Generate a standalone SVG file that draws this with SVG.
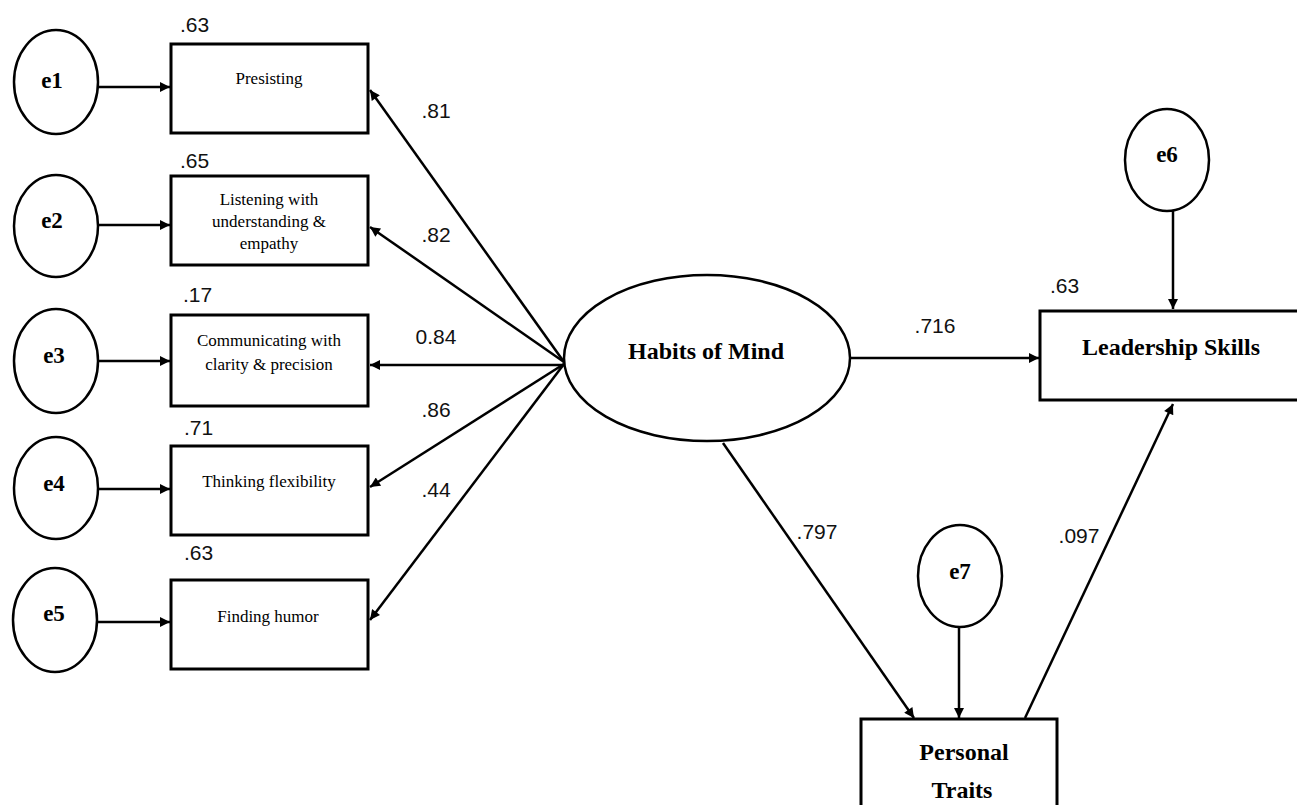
<svg xmlns="http://www.w3.org/2000/svg" width="1297" height="805" viewBox="0 0 1297 805">
<style>
.node{fill:#fff;stroke:#000;stroke-width:2.5}
.box{fill:#fff;stroke:#000;stroke-width:3}
.conn line{stroke:#000;stroke-width:2.5;marker-end:url(#ah)}
.e{font-family:"Liberation Serif",serif;font-weight:bold;font-size:23px;text-anchor:middle}
.bt{font-family:"Liberation Serif",serif;font-size:17px;text-anchor:middle}
.big{font-family:"Liberation Serif",serif;font-weight:bold;font-size:24px;text-anchor:middle}
.num{font-family:"Liberation Sans",sans-serif;font-size:21px;fill:#111}
</style>
<defs>
<marker id="ah" viewBox="0 0 10 10" refX="10" refY="5" markerWidth="5" markerHeight="4" markerUnits="strokeWidth" orient="auto">
<path d="M0,0 L10,5 L0,10 z" fill="#000"/>
</marker>
</defs>
<rect width="1297" height="805" fill="#fff"/>

<g id="connectors" class="conn">
<line x1="98" y1="87" x2="170" y2="87"/>
<line x1="98" y1="225" x2="170" y2="225"/>
<line x1="98" y1="361" x2="170" y2="361"/>
<line x1="98" y1="489" x2="170" y2="489"/>
<line x1="98" y1="622" x2="170" y2="622"/>
<line x1="564" y1="362" x2="370" y2="90"/>
<line x1="564" y1="362" x2="370" y2="227"/>
<line x1="564" y1="365" x2="370" y2="365"/>
<line x1="564" y1="364" x2="370" y2="487"/>
<line x1="564" y1="364" x2="370" y2="620"/>
<line x1="850" y1="358" x2="1039" y2="358"/>
<line x1="1173" y1="211" x2="1173" y2="309"/>
<line x1="723" y1="443" x2="914" y2="718"/>
<line x1="959" y1="627" x2="959" y2="718"/>
<line x1="1025" y1="718" x2="1173" y2="404"/>
</g>

<g id="e1"><ellipse class="node" cx="56" cy="82" rx="42" ry="52"/><text class="e" x="52" y="88">e1</text></g>
<g id="e2"><ellipse class="node" cx="56" cy="226" rx="42" ry="51"/><text class="e" x="52" y="228">e2</text></g>
<g id="e3"><ellipse class="node" cx="56" cy="361" rx="42" ry="52"/><text class="e" x="54" y="363">e3</text></g>
<g id="e4"><ellipse class="node" cx="56" cy="488" rx="42" ry="51"/><text class="e" x="54" y="491">e4</text></g>
<g id="e5"><ellipse class="node" cx="55" cy="620" rx="42" ry="52"/><text class="e" x="54" y="621">e5</text></g>

<g id="presisting"><rect class="box" x="171" y="44" width="197" height="89"/><text class="bt" x="269" y="84">Presisting</text><text class="num" x="180" y="32">.63</text></g>
<g id="listening"><rect class="box" x="171" y="176" width="197" height="89"/>
<text class="bt" x="269" y="205">Listening with</text><text class="bt" x="269" y="227">understanding &amp;</text><text class="bt" x="269" y="249">empathy</text><text class="num" x="180" y="168">.65</text></g>
<g id="communicating"><rect class="box" x="171" y="315" width="197" height="91"/>
<text class="bt" x="269" y="346" font-size="18">Communicating  with</text><text class="bt" x="269" y="370" font-size="18">clarity  &amp; precision</text><text class="num" x="183" y="302">.17</text></g>
<g id="thinking"><rect class="box" x="171" y="446" width="197" height="89"/><text class="bt" x="269" y="487" font-size="18">Thinking  flexibility</text><text class="num" x="184" y="435">.71</text></g>
<g id="humor"><rect class="box" x="171" y="580" width="197" height="89"/><text class="bt" x="268" y="622" font-size="18">Finding humor</text><text class="num" x="184" y="560">.63</text></g>

<g id="habits"><ellipse class="node" cx="707" cy="358" rx="143" ry="83"/><text class="big" x="706" y="359">Habits of Mind</text></g>
<g id="leadership"><rect class="box" x="1040" y="311" width="300" height="89"/><text class="big" x="1171" y="355">Leadership Skills</text><text class="num" x="1050" y="293">.63</text></g>
<g id="e6"><ellipse class="node" cx="1167" cy="160" rx="42" ry="51"/><text class="e" x="1167" y="162">e6</text></g>
<g id="personal"><rect class="box" x="861" y="719" width="196" height="120"/><text class="big" x="964" y="760" font-size="25">Personal</text><text class="big" x="962" y="798" font-size="25">Traits</text></g>
<g id="e7"><ellipse class="node" cx="960" cy="576" rx="42" ry="51"/><text class="e" x="960" y="579">e7</text></g>

<g id="labels" class="num">
<text x="436" y="118" text-anchor="middle">.81</text>
<text x="436" y="242" text-anchor="middle">.82</text>
<text x="436" y="344" text-anchor="middle">0.84</text>
<text x="436" y="417" text-anchor="middle">.86</text>
<text x="436" y="497" text-anchor="middle">.44</text>
<text x="935" y="333" text-anchor="middle">.716</text>
<text x="817" y="539" text-anchor="middle">.797</text>
<text x="1079" y="543" text-anchor="middle">.097</text>
</g>
</svg>
